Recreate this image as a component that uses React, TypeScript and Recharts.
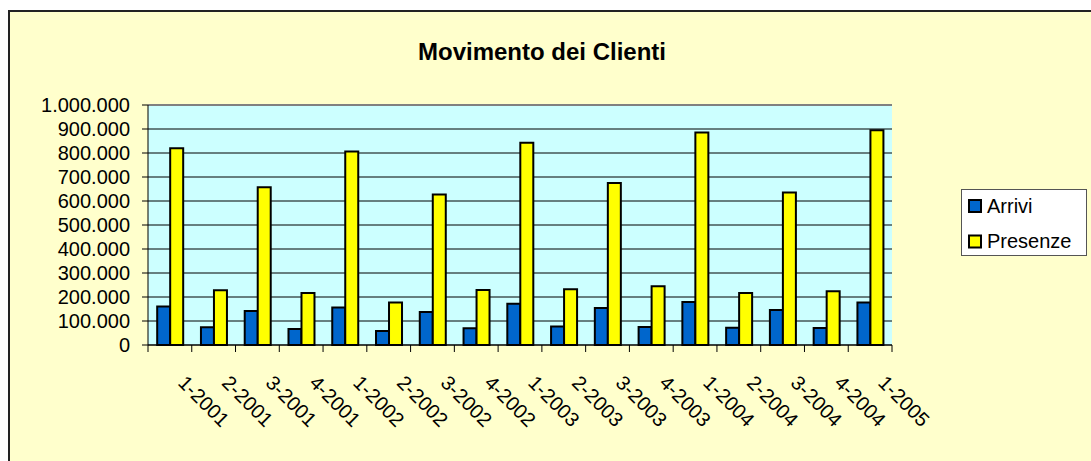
import React from 'react';
import { BarChart, Bar, XAxis, YAxis, CartesianGrid, ReferenceLine, Legend } from 'recharts';

const categories = ['1-2001','2-2001','3-2001','4-2001','1-2002','2-2002','3-2002','4-2002','1-2003','2-2003','3-2003','4-2003','1-2004','2-2004','3-2004','4-2004','1-2005'];
const arrivi = [160000, 74000, 142000, 67000, 156000, 58000, 138000, 70000, 172000, 77000, 154000, 75000, 179000, 72000, 146000, 71000, 177000];
const presenze = [820000, 228000, 657000, 217000, 806000, 177000, 627000, 229000, 843000, 232000, 675000, 245000, 885000, 217000, 635000, 224000, 895000];
const yTicks = [0, 100000, 200000, 300000, 400000, 500000, 600000, 700000, 800000, 900000, 1000000];
const seriesNames = ['Arrivi', 'Presenze'];
const seriesColors = ['#0066CC', '#FFFF00'];
const title = 'Movimento dei Clienti';

const data = categories.map((c, i) => ({ cat: c, Arrivi: arrivi[i], Presenze: presenze[i] }));

const FONT = '"Liberation Sans", Arial, sans-serif';

const fmt = (v: number) => String(v).replace(/\B(?=(\d{3})+(?!\d))/g, '.');

const XTick = (props: any) => {
  const { x, y, payload, index, visibleTicksCount } = props;
  const count = visibleTicksCount || categories.length;
  const w = typeof props.width === 'number' ? props.width : 744;
  const band = w / count;
  const left = x - band / 2;
  const ax = x + 7;
  const ay = y + 39;
  return (
    <g>
      <line x1={left} y1={y} x2={left} y2={y + 7} stroke="#000" strokeWidth={1} />
      {index === count - 1 && (
        <line x1={x + band / 2} y1={y} x2={x + band / 2} y2={y + 7} stroke="#000" strokeWidth={1} />
      )}
      <text
        x={ax}
        y={ay}
        transform={`rotate(45, ${ax}, ${ay})`}
        textAnchor="start"
        fontSize={20}
        fontFamily={FONT}
        fill="#000"
      >
        {payload.value}
      </text>
    </g>
  );
};

const LegendBox = () => (
  <svg width={127} height={68} style={{ display: 'block' }}>
    <rect x={0.5} y={0.5} width={125} height={66} fill="#FFFFFF" stroke="#555" strokeWidth={1} />
    {seriesNames.map((n, i) => (
      <g key={n}>
        <rect x={8} y={11 + i * 35.5} width={12} height={12} fill={seriesColors[i]} stroke="#000" strokeWidth={2} />
        <text x={26} y={24 + i * 35} fontSize={20} fontFamily={FONT} fill="#000">{n}</text>
      </g>
    ))}
  </svg>
);

export default function App() {
  return (
    <>
      <style>{`html,body{margin:0;padding:0;overflow:hidden;background:#fff;}`}</style>
      <div
        style={{
          position: 'absolute',
          left: 8,
          top: 10,
          width: 1083,
          height: 451,
          boxSizing: 'border-box',
          borderLeft: '2px solid #222',
          borderTop: '2px solid #222',
          background: '#FFFFCC',
          fontFamily: FONT,
        }}
      >
        <div
          style={{
            position: 'absolute',
            left: 332,
            width: 400,
            top: 28,
            height: 24,
            lineHeight: '24px',
            textAlign: 'center',
            fontSize: 24,
            fontWeight: 'bold',
            color: '#000',
          }}
        >
          {title}
        </div>
        <BarChart
          width={1081}
          height={449}
          data={data}
          margin={{ top: 93, right: 199, bottom: 0, left: 0 }}
          barCategoryGap="21%"
          barGap={0}
        >
          <CartesianGrid
            horizontal={true}
            vertical={false}
            stroke="#000"
            strokeWidth={1}
            fill="#CCFFFF"
            fillOpacity={1}
          />
          <XAxis
            dataKey="cat"
            height={116}
            axisLine={{ stroke: '#000', strokeWidth: 1 }}
            tickLine={false}
            tickSize={0}
            tickMargin={0}
            interval={0}
            tick={<XTick />}
          />
          <YAxis
            width={138}
            domain={[0, 1000000]}
            ticks={yTicks}
            interval={0}
            tickFormatter={fmt}
            axisLine={{ stroke: '#000', strokeWidth: 1 }}
            tickLine={{ stroke: '#000', strokeWidth: 1 }}
            tickSize={6}
            tickMargin={12}
            tick={{ fill: '#000', fontSize: 20, fontFamily: FONT }}
          />
          <YAxis
            yAxisId="right"
            orientation="right"
            width={0}
            tick={false}
            tickLine={false}
            axisLine={{ stroke: '#808080', strokeWidth: 2 }}
          />
          <ReferenceLine y={1000000} stroke="#808080" strokeWidth={2} />
          <Legend
            layout="horizontal"
            verticalAlign="middle"
            align="center"
            wrapperStyle={{ left: 951, top: 177, width: 127, height: 68 }}
            content={() => <LegendBox />}
          />
          <Bar dataKey="Arrivi" name={seriesNames[0]} fill={seriesColors[0]} stroke="#000" strokeWidth={2} isAnimationActive={false} />
          <Bar dataKey="Presenze" name={seriesNames[1]} fill={seriesColors[1]} stroke="#000" strokeWidth={2} isAnimationActive={false} />
        </BarChart>
      </div>
    </>
  );
}
